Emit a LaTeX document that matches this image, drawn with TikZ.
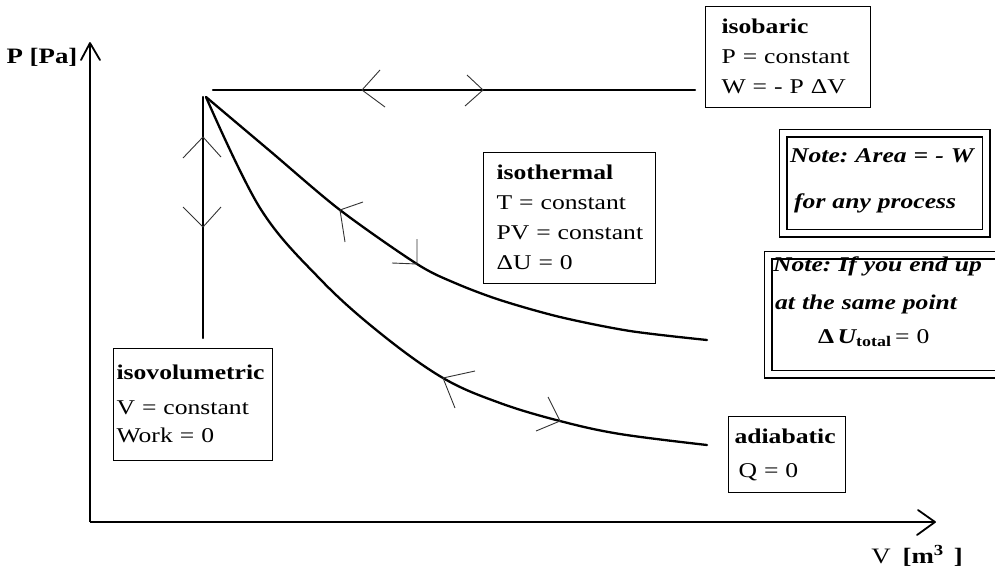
\documentclass[tikz,border=0pt]{standalone}
\usepackage{fontspec}
\setmainfont{Liberation Serif}[FakeStretch=1.22]
\newcommand\boxfont{\fontsize{21}{30}\selectfont\frenchspacing}
\newenvironment{boxlines}{\begin{tabular}{@{}l@{}}}{\end{tabular}}
\begin{document}
\begin{tikzpicture}[x=1pt,y=-1pt,
  axis/.style={line width=2.3pt},
  chev/.style={line width=1.8pt, line join=round, line cap=round},
  curve/.style={line width=2.3pt, line join=round, line cap=round},
  wing/.style={line width=0.9pt, black!80},
  infobox/.style={draw, line width=1.1pt, anchor=north west, align=left,
    inner ysep=0pt, font=\boxfont},
  notebox/.style={draw, double, double distance=6.4pt, line width=1.3pt,
    anchor=north west, align=left, inner ysep=0pt,
    font=\boxfont\bfseries\itshape},
  axlabel/.style={font=\fontsize{22}{24}\selectfont\bfseries, inner sep=0pt}]
\useasboundingbox (0,0) rectangle (995,571);
% axes
\coordinate (O) at (90,522);
\coordinate (Ytop) at (90,43);
\coordinate (Xend) at (935,522);
\draw[axis] (O) -- (Ytop);
\draw[axis] (O) -- (Xend);
\draw[chev] (Ytop) ++(-9,17) -- (Ytop) -- ++(10,17);
\draw[chev] (Xend) ++(-17,-12) -- (Xend) -- ++(-18,13);
\node[axlabel] (plab) at (42,57) {P [Pa]};
\node[axlabel] (vlab) at (917,556) {{\mdseries V}\hspace{12pt}[m\textsuperscript{3}\hspace{10pt}]};
% isovolumetric line
\coordinate (A) at (203,97);
\coordinate (B) at (203,338);
\draw[curve] (B) -- (A);
\coordinate (vu) at (203,137);
\coordinate (vd) at (203,227);
\draw[wing] (vu) ++(-20,21) -- (vu) -- ++(18,20);
\draw[wing] (vd) ++(-20,-20) -- (vd) -- ++(18,-20);
% isobaric line
\coordinate (C1) at (213,90);
\coordinate (C2) at (695,90);
\draw[curve] (C1) -- (C2);
\coordinate (bl) at (362,90);
\coordinate (br) at (483,90);
\draw[wing] (bl) ++(18,-20) -- (bl) -- ++(23,17);
\draw[wing] (br) ++(-16,-15) -- (br) -- ++(-18,16);
% isothermal curve
\coordinate (S) at (206,97);
\coordinate (Tend) at (707,340);
\coordinate (tl) at (340,210);
\coordinate (tr) at (417,264);
\draw[curve] plot[smooth, tension=0.5] coordinates
  {(S) (270,151) (tl) (tr) (455,283) (500,300) (560,317) (630,331) (Tend)};
\draw[wing] (tl) ++(23,-8) -- (tl) -- ++(5,32);
\draw[wing] (tr) ++(0,-25) -- (tr) -- ++(-25,-1);
% adiabatic curve
\coordinate (Aend) at (707,445);
\coordinate (al) at (443,378);
\coordinate (ar) at (560,421);
\draw[curve] plot[smooth, tension=0.6] coordinates
  {(S) (260,208) (320,279) (380,333) (al) (500,403) (ar) (620,434) (Aend)};
\draw[wing] (al) ++(32,-7) -- (al) -- ++(12,30);
\draw[wing] (ar) ++(-12,-24) -- (ar) -- ++(-24,10);
% boxes
\node[infobox, inner xsep=16pt, text width=133pt, minimum height=101pt]
  (isobaric) at (705,6)
  {\begin{boxlines}\textbf{isobaric}\\P = constant\\W = - P ΔV\rule[-4pt]{0pt}{0pt}\end{boxlines}};
\node[infobox, inner xsep=13pt, text width=146pt, minimum height=131pt]
  (isothermal) at (483,152)
  {\begin{boxlines}\textbf{isothermal}\\T = constant\\PV = constant\\ΔU = 0\end{boxlines}};
\node[infobox, inner xsep=3pt, text width=153pt, minimum height=112pt]
  (isovol) at (113,348)
  {\begin{boxlines}\textbf{isovolumetric}\\[5pt]V = constant\\[-2pt]Work = 0\end{boxlines}};
\node[infobox, inner xsep=6pt, text width=105pt, minimum height=76pt]
  (adiabatic) at (728,416)
  {\begin{boxlines}\textbf{adiabatic}\\[4pt]\hspace*{4pt}Q = 0\end{boxlines}};
\node[notebox, inner xsep=7pt, text width=189pt, minimum width=203pt, minimum height=100pt]
  (note1) at (782.5,132.5)
  {\raisebox{-2pt}[0pt][0pt]{\begin{boxlines}Note: Area = - W\\[16pt]\hspace*{4pt}for any process\end{boxlines}}};
\node[notebox, inner xsep=5pt, text width=240pt, minimum height=119pt]
  (note2) at (767.5,254.5)
  {\raisebox{8pt}[0pt][0pt]{\begin{boxlines}Note: If you end up\\[8pt]\hspace*{2pt}at the same point\\[4pt]
   \hspace*{45pt}{\upshape Δ}\,\textit{U}\textsubscript{\upshape total}\,{\mdseries\upshape = 0}\end{boxlines}}};
\end{tikzpicture}
\end{document}
